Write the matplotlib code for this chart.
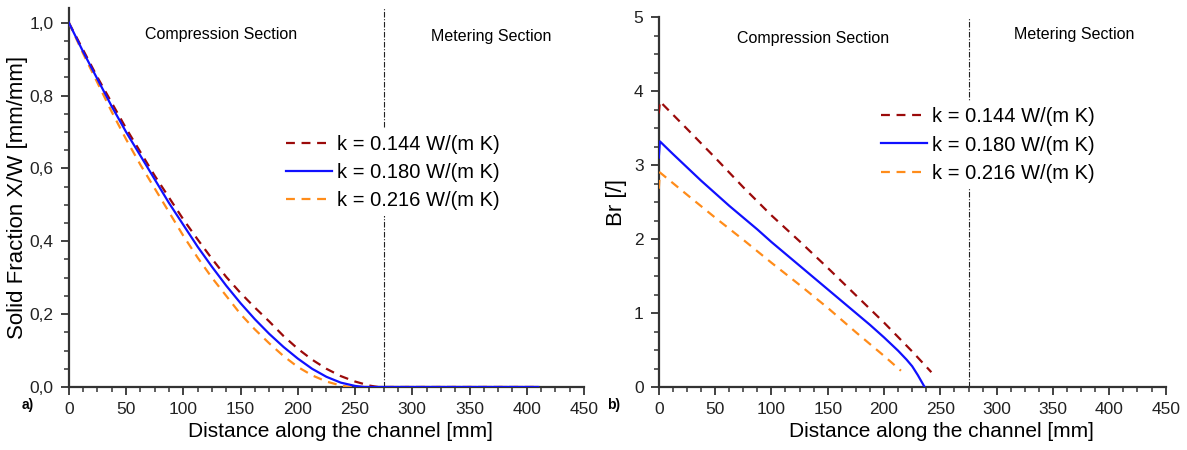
import matplotlib
matplotlib.use("Agg")
import matplotlib.pyplot as plt
from matplotlib.ticker import MultipleLocator, FuncFormatter

plt.rcParams["font.family"] = ["Liberation Sans", "DejaVu Sans"]

labels = ["k = 0.144 W/(m K)", "k = 0.180 W/(m K)", "k = 0.216 W/(m K)"]
colors = ["#9b0a0a", "#1010ff", "#ff8c1a"]

# panel a) solid fraction X/W
xw_x_144 = [0, 12.5, 25, 37.5, 50, 62.5, 75, 87.5, 100, 112.5, 125, 137.5, 150, 162.5,
            175, 187.5, 200, 212.5, 225, 237.5, 250, 262.5, 270, 410]
xw_y_144 = [1.0, 0.925, 0.85, 0.78, 0.71, 0.645, 0.58, 0.52, 0.46, 0.405, 0.352, 0.302,
            0.258, 0.218, 0.18, 0.14, 0.105, 0.075, 0.05, 0.03, 0.015, 0.004, 0.0, 0.0]
xw_x_180 = [0, 12.5, 25, 37.5, 50, 62.5, 75, 87.5, 100, 112.5, 125, 137.5, 150, 162.5,
            175, 187.5, 200, 212.5, 225, 237.5, 250, 258, 410]
xw_y_180 = [1.0, 0.92, 0.845, 0.77, 0.70, 0.635, 0.57, 0.505, 0.445, 0.385, 0.33, 0.278,
            0.23, 0.186, 0.146, 0.11, 0.078, 0.05, 0.028, 0.012, 0.003, 0.0, 0.0]
xw_x_216 = [0, 12.5, 25, 37.5, 50, 62.5, 75, 87.5, 100, 112.5, 125, 137.5, 150, 162.5,
            175, 187.5, 200, 212.5, 225, 237.5, 245, 410]
xw_y_216 = [1.0, 0.915, 0.835, 0.755, 0.68, 0.61, 0.545, 0.48, 0.415, 0.355, 0.30, 0.25,
            0.20, 0.158, 0.12, 0.085, 0.055, 0.032, 0.015, 0.004, 0.0, 0.0]

# panel b) Brinkman number
br_x_144 = [0, 1, 25, 50, 75, 100, 125, 150, 175, 200, 225, 242]
br_y_144 = [3.70, 3.86, 3.49, 3.10, 2.70, 2.32, 1.97, 1.61, 1.24, 0.87, 0.48, 0.20]
br_x_180 = [0, 1, 12.5, 25, 37.5, 50, 62.5, 75, 87.5, 100, 112.5, 125, 137.5, 150, 162.5,
            175, 187.5, 200, 212.5, 220, 225, 230, 233, 236]
br_y_180 = [3.10, 3.32, 3.15, 2.97, 2.79, 2.62, 2.45, 2.29, 2.13, 1.96, 1.80, 1.64, 1.48,
            1.32, 1.16, 1.00, 0.84, 0.67, 0.49, 0.37, 0.28, 0.16, 0.08, 0.0]
br_x_216 = [0, 1, 25, 50, 75, 100, 125, 150, 175, 200, 215]
br_y_216 = [2.68, 2.90, 2.60, 2.29, 1.99, 1.68, 1.38, 1.07, 0.74, 0.42, 0.22]

section_border = 275

fig = plt.figure(figsize=(11.87, 4.5), dpi=100)
ax1 = fig.add_axes([0.058, 0.14, 0.434, 0.842])
ax2 = fig.add_axes([0.555, 0.14, 0.427, 0.822])


def draw(ax, xs, ys):
    styles = [(0, (4, 3)), "-", (0, (4, 3))]
    handles = {}
    for i in [0, 2, 1]:
        (h,) = ax.plot(xs[i], ys[i], color=colors[i], lw=1.6,
                       linestyle=styles[i], label=labels[i], zorder=3 + (i == 1))
        handles[i] = h
    return [handles[0], handles[1], handles[2]]


def style(ax, label_x, label_y):
    for s in ["top", "right"]:
        ax.spines[s].set_visible(False)
    for s in ["left", "bottom"]:
        ax.spines[s].set_linewidth(1.6)
        ax.spines[s].set_color("#333333")
    ax.tick_params(which="major", direction="out", length=6, width=1.3, pad=5,
                   labelsize=12.5, colors="#333333", labelcolor="#222222")
    ax.tick_params(which="minor", direction="out", length=3.5, width=1.1, colors="#333333")
    ax.set_xlim(0, 450)
    ax.xaxis.set_major_locator(MultipleLocator(50))
    ax.xaxis.set_minor_locator(MultipleLocator(12.5))
    ax.set_xlabel("Distance along the channel [mm]", fontsize=15)
    ax.xaxis.set_label_coords(label_x, label_y, transform=ax.transAxes)
    ax.xaxis.label.set_va("top")


def legend(ax, handles, anchor):
    leg = ax.legend(handles=handles, loc="upper left", bbox_to_anchor=anchor, frameon=True,
                    fontsize=14.5, handlelength=2.3, handletextpad=0.25, labelspacing=0.45,
                    borderaxespad=0, borderpad=0.3)
    leg.get_frame().set_edgecolor("none")
    leg.get_frame().set_facecolor("white")
    leg.get_frame().set_alpha(1)


h1 = draw(ax1, [xw_x_144, xw_x_180, xw_x_216], [xw_y_144, xw_y_180, xw_y_216])
style(ax1, 0.527, -0.093)
ax1.set_ylim(0, 1.04)
ax1.yaxis.set_major_locator(MultipleLocator(0.2))
ax1.yaxis.set_minor_locator(MultipleLocator(0.05))
ax1.yaxis.set_major_formatter(FuncFormatter(lambda v, p: f"{v:.1f}".replace(".", ",")))
ax1.set_ylabel("Solid Fraction X/W [mm/mm]", fontsize=16, labelpad=1)
ax1.axvline(section_border, color="#222222", lw=0.8, linestyle=(0, (5, 1.5, 1, 1.5)), zorder=1)
ax1.text(0.295, 0.93, "Compression Section", transform=ax1.transAxes, ha="center",
         va="center", fontsize=11.5)
ax1.text(0.82, 0.925, "Metering Section", transform=ax1.transAxes, ha="center",
         va="center", fontsize=11.5)
legend(ax1, h1, (0.41, 0.682))

h2 = draw(ax2, [br_x_144, br_x_180, br_x_216], [br_y_144, br_y_180, br_y_216])
style(ax2, 0.557, -0.095)
ax2.set_ylim(0, 5)
ax2.yaxis.set_major_locator(MultipleLocator(1))
ax2.yaxis.set_minor_locator(MultipleLocator(0.25))
ax2.set_ylabel("Br [/]", fontsize=16, labelpad=5)
ax2.axvline(section_border, color="#222222", lw=0.8, linestyle=(0, (5, 1.5, 1, 1.5)), zorder=1)
ax2.text(0.304, 0.943, "Compression Section", transform=ax2.transAxes, ha="center",
         va="center", fontsize=11.5)
ax2.text(0.82, 0.953, "Metering Section", transform=ax2.transAxes, ha="center",
         va="center", fontsize=11.5)
legend(ax2, h2, (0.426, 0.772))

fig.text(0.018, 0.09, "a)", fontsize=10, fontweight="bold")
fig.text(0.511, 0.09, "b)", fontsize=10, fontweight="bold")

fig.savefig("out.png", dpi=100)
